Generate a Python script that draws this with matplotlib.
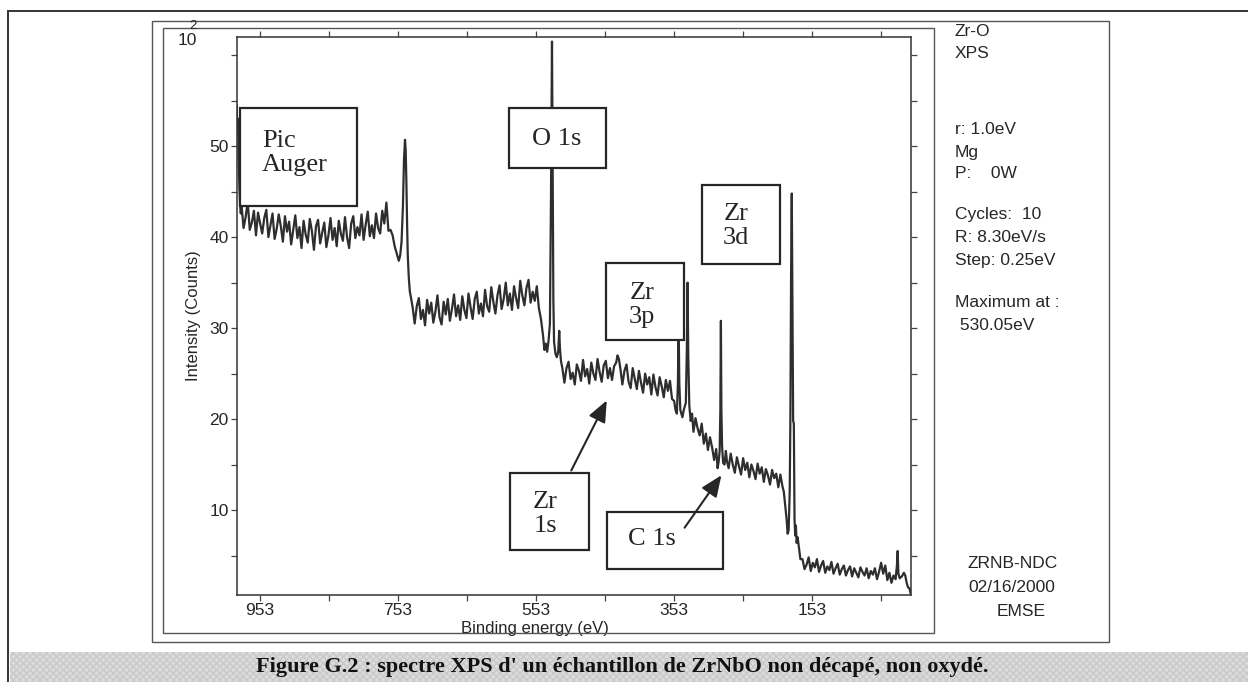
import numpy as np
import matplotlib
matplotlib.use("Agg")
import matplotlib.pyplot as plt
from matplotlib.patches import Rectangle, FancyArrowPatch

# ---- spectre XPS (énergie de liaison en eV, intensité en 10^2 coups) ----
be_start = [987, 986, 985, 984, 983, 982, 981]
ct_start = [54.5, 51.5, 53.0, 48.5, 45.5, 43.5, 42.6]

be_bg1 = list(range(980, 766, -3))
ct_bg1 = [43.6, 41.0, 42.2, 43.9, 40.8, 41.6, 42.9, 40.2, 42.7, 41.5,
          40.4, 42.1, 43.0, 40.0, 41.3, 42.6, 39.8, 40.9, 42.5, 41.2,
          39.5, 42.3, 40.6, 41.7, 39.2, 40.8, 42.4, 39.9, 41.1, 38.8,
          41.8, 40.3, 39.4, 42.0, 40.7, 38.6, 41.2, 41.9, 39.3, 40.5,
          41.6, 38.9, 40.2, 42.1, 39.7, 41.0, 39.0, 41.8, 40.4, 39.6,
          42.2, 40.0, 38.8, 41.5, 42.3, 39.9, 41.1, 40.2, 42.5, 39.7,
          41.4, 42.8, 40.1, 41.3, 39.9, 42.6, 41.0, 40.4, 42.9, 41.5,
          43.8, 40.7]

be_auger = [764, 761, 758, 755, 752, 750, 748, 746, 744.5, 743, 742, 741,
            740, 739, 737.5, 736, 734, 732]
ct_auger = [40.8, 40.2, 39.0, 38.2, 37.4, 38.0, 39.5, 43.5, 48.5, 50.7, 49.5,
            46.0, 41.5, 38.0, 35.5, 34.0, 33.2, 32.3]

be_bg2 = list(range(729, 548, -3))
ct_bg2 = [30.5, 32.4, 33.3, 31.0, 32.0, 30.3, 33.1, 31.6, 32.8, 30.6,
          31.8, 33.6, 31.2, 30.4, 32.9, 31.5, 33.2, 30.8, 32.1, 33.7,
          31.3, 32.5, 30.9, 33.5, 32.0, 31.1, 33.8, 32.3, 31.0, 33.2,
          34.0, 31.6, 32.7, 31.3, 34.2, 32.4, 31.8, 34.5, 32.9, 31.6,
          33.6, 34.7, 32.1, 33.2, 35.0, 32.5, 33.8, 32.0, 34.6, 33.3,
          32.2, 35.2, 33.6, 32.5, 34.4, 35.3, 32.8, 34.0, 33.0, 34.6,
          32.2]

be_o1s = [546, 543, 541, 539, 537, 535, 533, 531.5, 530, 529, 528, 527,
          525, 523, 521, 519.5, 518.5, 517, 515]
ct_o1s = [31.0, 29.2, 27.6, 28.3, 27.4, 28.6, 30.5, 44.0, 61.5, 48.0, 33.0,
          28.5, 27.2, 26.8, 27.4, 29.7, 27.8, 26.4, 25.6]

be_bg3 = list(range(512, 439, -3))
ct_bg3 = [24.0, 25.6, 26.3, 24.4, 25.1, 23.8, 26.0, 25.3, 24.2, 26.5,
          24.7, 25.5, 23.9, 26.2, 25.0, 24.3, 26.6, 25.2, 24.1, 25.9,
          26.4, 24.5, 25.6, 24.3, 25.8]

be_zr3s = [437, 435, 433, 431]
ct_zr3s = [26.2, 27.0, 26.6, 25.6]

be_bg4 = list(range(428, 355, -3))
ct_bg4 = [23.8, 25.3, 26.0, 24.1, 23.4, 25.6, 24.4, 23.3, 25.3, 24.0,
          22.9, 25.0, 23.8, 24.6, 22.7, 24.9, 23.5, 22.6, 24.6, 23.6,
          22.4, 24.3, 23.1, 24.2, 22.2]

be_zr3p = [353, 351, 349, 347.5, 346.5, 345.5, 344, 341, 339, 336, 334.5,
           333.5, 332.5, 331, 329, 327]
ct_zr3p = [22.0, 21.0, 20.6, 24.0, 31.0, 24.0, 21.0, 20.2, 21.0, 21.8, 28.0,
           35.0, 27.0, 21.5, 19.8, 20.6]

be_bg5 = list(range(325, 291, -3))
ct_bg5 = [18.6, 20.1, 19.0, 18.2, 19.5, 17.3, 18.4, 16.6, 18.0, 16.9,
          15.5, 16.7]

be_c1s = [290, 288.5, 287, 286, 285.2, 284.5, 283.5, 282, 280, 278, 276.5]
ct_c1s = [14.6, 15.3, 16.5, 21.0, 30.8, 21.0, 17.0, 15.2, 15.0, 16.5, 15.4]

be_bg6 = list(range(274, 195, -3))
ct_bg6 = [14.6, 16.2, 15.0, 14.1, 15.8, 14.8, 13.9, 15.7, 14.4, 15.2,
          13.6, 15.0, 14.3, 13.4, 15.1, 14.0, 14.7, 13.1, 14.5, 13.8,
          12.8, 14.4, 13.5, 14.0, 12.5, 13.9, 12.6]

be_zr3d = [194, 192, 190, 188.5, 187, 185.5, 184.5, 183.5, 182.5, 181.5,
           180.5, 179.5, 178.5, 177.5, 176.5, 175.5, 174, 172, 170]
ct_zr3d = [12.0, 10.5, 9.0, 7.4, 7.8, 12.0, 20.0, 36.0, 44.8, 32.0, 19.8,
           19.5, 9.0, 7.2, 8.3, 6.4, 7.0, 5.8, 4.6]

be_bg7 = list(range(167, 34, -3))
ct_bg7 = [4.6, 3.5, 4.0, 4.8, 3.3, 4.2, 3.7, 4.6, 3.2, 3.9,
          4.4, 3.1, 3.8, 3.4, 4.3, 3.0, 3.6, 4.1, 2.9, 3.5,
          3.9, 2.8, 3.4, 3.8, 2.7, 3.6, 3.1, 2.6, 3.7, 3.2,
          2.8, 3.6, 2.5, 3.3, 2.9, 3.6, 2.4, 3.2, 4.2, 3.0,
          3.9, 2.3, 3.1, 2.0, 2.8]

be_end = [32, 30, 29, 28, 26, 23, 20, 18, 16, 14, 12, 10.5]
ct_end = [2.4, 4.0, 5.5, 3.0, 2.5, 2.7, 3.1, 2.8, 2.0, 1.5, 1.4, 0.9]

be_ticks = [953, 753, 553, 353, 153]
be_minor = [853, 653, 453, 253, 53]
ct_ticks = [10, 20, 30, 40, 50]
ct_minor = [5, 15, 25, 35, 45, 55, 60]

info_lines = ["Zr-O", "XPS", "r: 1.0eV", "Mg", "P:    0W", "Cycles:  10",
              "R: 8.30eV/s", "Step: 0.25eV", "Maximum at :", " 530.05eV",
              "ZRNB-NDC", "02/16/2000", "EMSE"]
info_y = [32, 54, 130, 152, 174, 215, 238, 260, 302, 325, 564, 588, 611]
info_x = [955] * 10 + [968, 968, 997]

caption = "Figure G.2 : spectre XPS d' un échantillon de ZrNbO non décapé, non oxydé."

be = np.concatenate([be_start, be_bg1, be_auger, be_bg2, be_o1s, be_bg3, be_zr3s,
                     be_bg4, be_zr3p, be_bg5, be_c1s, be_bg6, be_zr3d, be_bg7, be_end])
ct = np.concatenate([ct_start, ct_bg1, ct_auger, ct_bg2, ct_o1s, ct_bg3, ct_zr3s,
                     ct_bg4, ct_zr3p, ct_bg5, ct_c1s, ct_bg6, ct_zr3d, ct_bg7, ct_end])

W, H = 1248, 682
SANS = ["Liberation Sans", "DejaVu Sans"]
SERIF = ["Liberation Serif", "DejaVu Serif"]
INK = "#262626"


def fx(x):
    return x / W


def fy(y):
    return 1 - y / H


def frame(x0, y0, x1, y1, lw=1.0, color="#555555"):
    fig.add_artist(Rectangle((fx(x0), fy(y1)), fx(x1) - fx(x0), fy(y0) - fy(y1),
                             transform=fig.transFigure, fill=False, lw=lw,
                             edgecolor=color, zorder=1))


def label_box(x0, y0, x1, y1, text, tx, ty, ha="center"):
    fig.add_artist(Rectangle((fx(x0), fy(y1)), fx(x1) - fx(x0), fy(y0) - fy(y1),
                             transform=fig.transFigure, facecolor="white",
                             edgecolor=INK, lw=1.6, zorder=3))
    fig.text(fx(tx), fy(ty), text, ha=ha, va="center", family=SERIF,
             fontsize=19, color=INK, linespacing=1.15, zorder=4)


def arrow(x0, y0, x1, y1):
    fig.add_artist(FancyArrowPatch((fx(x0), fy(y0)), (fx(x1), fy(y1)),
                                   transform=fig.transFigure,
                                   arrowstyle="-|>,head_length=13,head_width=5.5",
                                   color=INK, lw=1.5, zorder=4))


fig = plt.figure(figsize=(W / 100, H / 100), dpi=100)
fig.patch.set_facecolor("white")

# cadres
frame(8, 11, 1262, 700, lw=1.4, color="#333333")
frame(152, 21, 1109, 642, lw=1.0)
frame(163, 28, 934, 633, lw=1.0)

# bandeau de légende
fig.add_artist(Rectangle((fx(10), fy(682)), fx(1248) - fx(10), fy(652) - fy(682),
                         transform=fig.transFigure, facecolor="#dcdcdc",
                         edgecolor="#c9c9c9", hatch="xxxxx", lw=0, zorder=1))
fig.text(fx(622), fy(667), caption, ha="center", va="center", family=SERIF,
         fontweight="bold", fontsize=16, color="#111111", zorder=2)

ax = fig.add_axes([fx(237), fy(595), fx(911) - fx(237), fy(37) - fy(595)])
ax.plot(be, ct, color="#2e2e2e", lw=1.6)
ax.set_xlim(986.5, 9.7)
ax.set_ylim(0.66, 62)
ax.set_xticks(be_ticks)
ax.set_xticks(be_minor, minor=True)
ax.set_yticks(ct_ticks)
ax.set_yticks(ct_minor, minor=True)
ax.tick_params(which="both", direction="out", top=True, right=True, length=4,
               width=0.9, color="#444444", labelsize=12.5, pad=2)
for lab in ax.get_xticklabels() + ax.get_yticklabels():
    lab.set_family(SANS)
    lab.set_color(INK)
for s in ax.spines.values():
    s.set_linewidth(1.1)
    s.set_color("#333333")
ax.set_xlabel("Binding energy (eV)", family=SANS, fontsize=12, color=INK, labelpad=1)
ax.set_ylabel("Intensity (Counts)", family=SANS, fontsize=12, color=INK, labelpad=6)
ax.xaxis.set_label_coords((535 - 237) / (911 - 237), -0.046)

# facteur d'échelle 10^2 (le 2 chevauche le 0 dans l'original)
fig.text(fx(178), fy(33), "10", ha="left", va="top", family=SANS,
         fontsize=12.5, color=INK)
fig.text(fx(189), fy(32), "2", ha="left", va="bottom", family=SANS,
         fontsize=9.5, color=INK)

# annotations
label_box(240, 108, 357, 206, "Pic\nAuger", 262, 153, ha="left")
label_box(509, 108, 606, 168, "O 1s", 557, 139)
label_box(606, 263, 684, 340, "Zr\n3p", 642, 305)
label_box(702, 185, 780, 264, "Zr\n3d", 736, 226)
label_box(510, 473, 589, 550, "Zr\n1s", 545, 514)
label_box(607, 512, 723, 569, "C 1s", 652, 539)
arrow(570, 473, 608, 398)
arrow(683, 530, 723, 473)

for t, x, y in zip(info_lines, info_x, info_y):
    fig.text(fx(x), fy(y), t, ha="left", va="center", family=SANS,
             fontsize=12.5, color=INK)

fig.savefig("out.png", dpi=100)
